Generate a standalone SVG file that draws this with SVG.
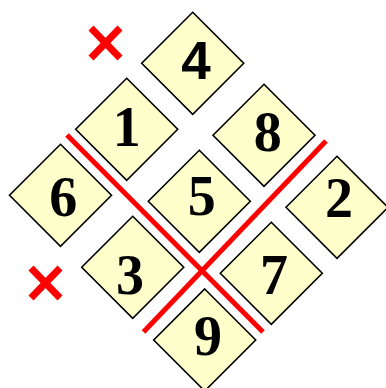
<svg xmlns="http://www.w3.org/2000/svg" width="386" height="388" viewBox="0 0 386 388">
<style>
.d{fill:#ffffcc;stroke:#000;stroke-width:1.6;stroke-linejoin:miter}
.t{font-family:"Liberation Serif","Times New Roman",serif;font-weight:bold;font-size:56px;text-anchor:middle;fill:#000}
.s{font-family:"Liberation Sans",Arial,sans-serif;font-weight:bold;font-size:53px;text-anchor:middle;fill:#000}
.r{stroke:#ff0000;stroke-width:5;fill:none;stroke-linecap:butt}
.x{stroke:#ff0000;stroke-width:7;fill:none;stroke-linecap:butt}
</style>
<rect width="386" height="388" fill="#fff"/>
<g id="n4"><path class="d" d="M192.7,12.3 L243.7,63.3 L192.7,114.3 L141.7,63.3 Z"/><text class="s" x="196" y="79.3">4</text></g>
<g id="n1"><path class="d" d="M126.7,78.3 L177.7,129.3 L126.7,180.3 L75.7,129.3 Z"/><text class="t" x="126.7" y="146">1</text></g>
<g id="n8"><path class="d" d="M264,84.3 L315,135.3 L264,186.3 L213,135.3 Z"/><text class="t" x="267.7" y="150.7">8</text></g>
<g id="n6"><path class="d" d="M60.5,144.3 L111.5,195.3 L60.5,246.3 L9.5,195.3 Z"/><text class="t" x="63.3" y="216">6</text></g>
<g id="n5"><path class="d" d="M199.3,150.3 L250.3,201.3 L199.3,252.3 L148.3,201.3 Z"/><text class="t" x="201.7" y="215">5</text></g>
<g id="n2"><path class="d" d="M337,156.3 L388,207.3 L337,258.3 L286,207.3 Z"/><text class="t" x="339" y="217">2</text></g>
<g id="n3"><path class="d" d="M132.7,216.3 L183.7,267.3 L132.7,318.3 L81.7,267.3 Z"/><text class="t" x="130" y="294">3</text></g>
<g id="n7"><path class="d" d="M271.3,222.3 L322.3,273.3 L271.3,324.3 L220.3,273.3 Z"/><text class="t" x="274" y="294">7</text></g>
<g id="n9"><path class="d" d="M204.7,289 L255.7,340 L204.7,391 L153.7,340 Z"/><text class="t" x="208" y="355">9</text></g>
<g id="connectors">
<line class="r" x1="67" y1="135" x2="263" y2="332"/>
<line class="r" x1="326" y1="141" x2="143.5" y2="332"/>
<line class="x" x1="91" y1="28" x2="120" y2="58"/>
<line class="x" x1="120" y1="28" x2="91" y2="58"/>
<line class="x" x1="31" y1="268" x2="60" y2="298"/>
<line class="x" x1="60" y1="268" x2="31" y2="298"/>
</g>
</svg>
